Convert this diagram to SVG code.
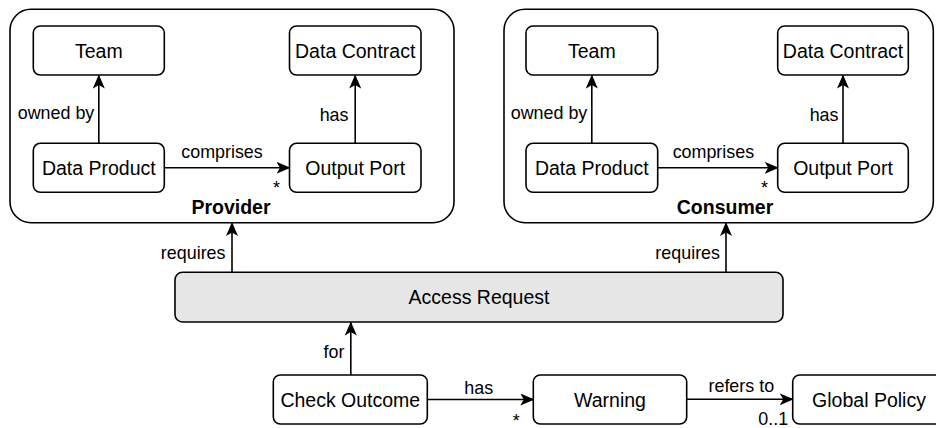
<svg xmlns="http://www.w3.org/2000/svg" width="936" height="428" viewBox="0 0 936 428">
  <defs>
    <style>
      .box { fill: #ffffff; stroke: #000000; stroke-width: 1.6; }
      .shaded { fill: #e6e6e6; stroke: #000000; stroke-width: 1.6; }
      .edge { fill: none; stroke: #000000; stroke-width: 1.6; }
      .label { font-family: "Liberation Sans", Arial, Helvetica, sans-serif; font-size: 19.5px; fill: #000000; text-anchor: middle; }
      .title { font-family: "Liberation Sans", Arial, Helvetica, sans-serif; font-size: 19.5px; font-weight: bold; fill: #000000; text-anchor: middle; }
      .elabel { font-family: "Liberation Sans", Arial, Helvetica, sans-serif; font-size: 17.9px; fill: #000000; }
      .mid { text-anchor: middle; }
      .end { text-anchor: end; }
      .start { text-anchor: start; }
    </style>
    <marker id="arrow" viewBox="0 0 14 12" refX="13" refY="6" markerWidth="14" markerHeight="12" markerUnits="userSpaceOnUse" orient="auto">
      <path d="M0,0 L14,6 L0,12 L3.5,6 Z" fill="#000000"/>
    </marker>
  </defs>

  <!-- Provider domain -->
  <g id="provider">
    <rect class="box" x="10" y="9.3" width="444" height="213.4" rx="21" ry="21"/>
    <text class="title" x="231" y="213.5">Provider</text>
  </g>
  <g id="provider-team">
    <rect class="box" x="33.3" y="26" width="131" height="49" rx="7" ry="7"/>
    <text class="label" x="98.8" y="57.5">Team</text>
  </g>
  <g id="provider-data-contract">
    <rect class="box" x="289.5" y="26" width="131.5" height="49" rx="7" ry="7"/>
    <text class="label" x="355.2" y="57.5">Data Contract</text>
  </g>
  <g id="provider-data-product">
    <rect class="box" x="33.3" y="143.3" width="131" height="49" rx="7" ry="7"/>
    <text class="label" x="98.8" y="174.8">Data Product</text>
  </g>
  <g id="provider-output-port">
    <rect class="box" x="289.5" y="143.3" width="131.5" height="49" rx="7" ry="7"/>
    <text class="label" x="355.2" y="174.8">Output Port</text>
  </g>

  <!-- Consumer domain -->
  <g id="consumer">
    <rect class="box" x="504" y="9.3" width="429.3" height="213.4" rx="21" ry="21"/>
    <text class="title" x="725" y="213.5">Consumer</text>
  </g>
  <g id="consumer-team">
    <rect class="box" x="526" y="26" width="131.7" height="49" rx="7" ry="7"/>
    <text class="label" x="591.8" y="57.5">Team</text>
  </g>
  <g id="consumer-data-contract">
    <rect class="box" x="777.7" y="26" width="130.6" height="49" rx="7" ry="7"/>
    <text class="label" x="843" y="57.5">Data Contract</text>
  </g>
  <g id="consumer-data-product">
    <rect class="box" x="526" y="143.3" width="131.7" height="49" rx="7" ry="7"/>
    <text class="label" x="591.8" y="174.8">Data Product</text>
  </g>
  <g id="consumer-output-port">
    <rect class="box" x="777.7" y="143.3" width="130.6" height="49" rx="7" ry="7"/>
    <text class="label" x="843" y="174.8">Output Port</text>
  </g>

  <!-- Access request and checks -->
  <g id="access-request">
    <rect class="shaded" x="175" y="272.3" width="608" height="49.7" rx="7.5" ry="7.5"/>
    <text class="label" x="479" y="304">Access Request</text>
  </g>
  <g id="check-outcome">
    <rect class="box" x="273.3" y="375" width="154" height="49" rx="7" ry="7"/>
    <text class="label" x="350.3" y="406.5">Check Outcome</text>
  </g>
  <g id="warning">
    <rect class="box" x="533.3" y="375" width="153.4" height="49" rx="7" ry="7"/>
    <text class="label" x="610" y="406.5">Warning</text>
  </g>
  <g id="global-policy">
    <rect class="box" x="792.7" y="375" width="153" height="49" rx="7" ry="7"/>
    <text class="label" x="869" y="406.5">Global Policy</text>
  </g>

  <!-- Connectors -->
  <g id="connectors">
    <!-- Provider -->
    <path class="edge" d="M98.8,143.3 L98.8,75.5" marker-end="url(#arrow)"/>
    <text class="elabel end" x="94.3" y="119">owned by</text>
    <path class="edge" d="M164.3,167.8 L289.5,167.8" marker-end="url(#arrow)"/>
    <text class="elabel mid" x="222" y="158">comprises</text>
    <text class="elabel mid" x="276.5" y="194">*</text>
    <path class="edge" d="M355.2,143.3 L355.2,75.5" marker-end="url(#arrow)"/>
    <text class="elabel end" x="348.5" y="121">has</text>

    <!-- Consumer -->
    <path class="edge" d="M591.8,143.3 L591.8,75.5" marker-end="url(#arrow)"/>
    <text class="elabel end" x="587.3" y="119">owned by</text>
    <path class="edge" d="M657.7,167.8 L777.7,167.8" marker-end="url(#arrow)"/>
    <text class="elabel mid" x="713.4" y="158">comprises</text>
    <text class="elabel mid" x="764.5" y="194">*</text>
    <path class="edge" d="M843,143.3 L843,75.5" marker-end="url(#arrow)"/>
    <text class="elabel end" x="838.5" y="121">has</text>

    <!-- Access request requires both domains -->
    <path class="edge" d="M232,272.3 L232,223" marker-end="url(#arrow)"/>
    <text class="elabel end" x="225.5" y="259">requires</text>
    <path class="edge" d="M726,272.3 L726,223" marker-end="url(#arrow)"/>
    <text class="elabel end" x="720" y="259">requires</text>

    <!-- Check outcome chain -->
    <path class="edge" d="M350.8,375 L350.8,322.5" marker-end="url(#arrow)"/>
    <text class="elabel end" x="344.5" y="358">for</text>
    <path class="edge" d="M427.3,399.5 L533.3,399.5" marker-end="url(#arrow)"/>
    <text class="elabel mid" x="478.8" y="394">has</text>
    <text class="elabel mid" x="516.3" y="427">*</text>
    <path class="edge" d="M686.7,399.3 L792.7,399.3" marker-end="url(#arrow)"/>
    <text class="elabel mid" x="741.3" y="391.7">refers to</text>
    <text class="elabel start" x="758.3" y="425">0..1</text>
  </g>
</svg>
